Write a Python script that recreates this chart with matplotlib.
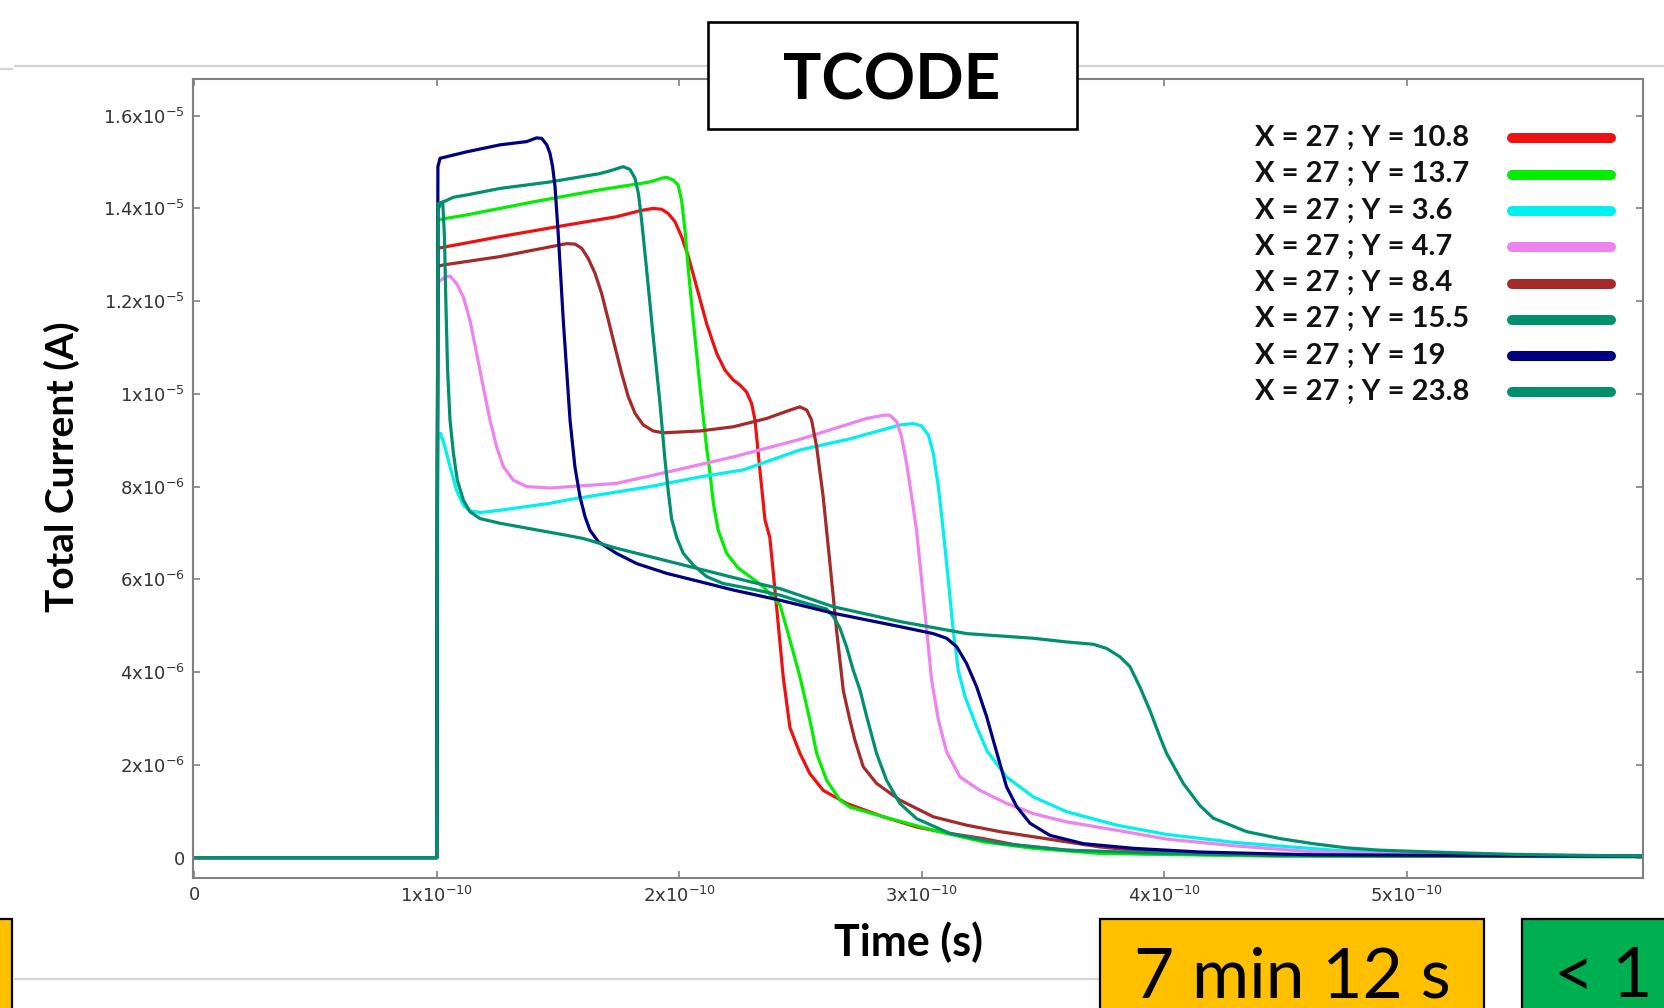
import matplotlib
matplotlib.use('Agg')
import matplotlib.pyplot as plt
from matplotlib.lines import Line2D
from matplotlib.patches import Rectangle
from matplotlib import font_manager

plt.rcParams['axes.unicode_minus'] = False

# ---------------- data (time in 1e-10 s, current in 1e-6 A) ----------------
labels = ["X = 27 ; Y = 10.8", "X = 27 ; Y = 13.7", "X = 27 ; Y = 3.6", "X = 27 ; Y = 4.7",
          "X = 27 ; Y = 8.4", "X = 27 ; Y = 15.5", "X = 27 ; Y = 19", "X = 27 ; Y = 23.8"]
colors = ["#EE1111", "#00EE00", "#00F0F0", "#EE82EE", "#A52A2A", "#00906E", "#000080", "#00906E"]

t_y108 = [0, 1.0, 1.005, 1.261, 1.536, 1.742, 1.838, 1.893, 1.928, 1.955, 1.983, 2.010, 2.038, 2.072,
          2.113, 2.155, 2.189, 2.223, 2.251, 2.278, 2.299, 2.313, 2.326, 2.340, 2.354, 2.374, 2.402,
          2.429, 2.457, 2.498, 2.539, 2.594, 2.690, 2.842, 2.979, 3.117, 3.254, 3.392, 3.598, 3.873,
          4.478, 5.2, 5.975]
i_y108 = [0, 0, 13.14, 13.39, 13.64, 13.82, 13.95, 14.0, 13.98, 13.89, 13.71, 13.39, 12.96, 12.31,
          11.52, 10.87, 10.51, 10.30, 10.19, 10.04, 9.79, 9.43, 8.72, 8.0, 7.28, 6.9, 5.4,
          3.9, 2.8, 2.25, 1.81, 1.45, 1.17, 0.88, 0.66, 0.52, 0.41, 0.27, 0.16, 0.09,
          0.04, 0.03, 0.03]

t_y137 = [0, 1.0, 1.005, 1.034, 1.124, 1.398, 1.673, 1.880, 1.928, 1.948, 1.976, 1.996, 2.010, 2.024,
          2.038, 2.058, 2.086, 2.113, 2.127, 2.141, 2.161, 2.196, 2.244, 2.292, 2.347, 2.416, 2.457,
          2.498, 2.539, 2.567, 2.608, 2.663, 2.704, 2.842, 3.048, 3.254, 3.46, 3.735, 4.478, 5.975]
i_y137 = [0, 0, 13.75, 13.78, 13.86, 14.14, 14.40, 14.57, 14.65, 14.67, 14.61, 14.50, 14.18, 13.53,
          12.67, 11.59, 10.15, 8.85, 8.3, 7.64, 7.06, 6.56, 6.24, 6.06, 5.84, 5.45, 4.69,
          3.9, 2.97, 2.25, 1.67, 1.24, 1.09, 0.88, 0.59, 0.34, 0.2, 0.09, 0.03, 0.02]

t_y36 = [0, 1.0, 1.005, 1.016, 1.034, 1.055, 1.082, 1.110, 1.137, 1.179, 1.261, 1.467, 1.536, 1.880,
         2.086, 2.264, 2.498, 2.704, 2.911, 2.966, 3.0, 3.028, 3.048, 3.069, 3.089, 3.110, 3.130,
         3.151, 3.179, 3.227, 3.27, 3.350, 3.46, 3.598, 3.804, 4.01, 4.285, 4.5, 4.75, 5.0, 5.44, 5.975]
i_y36 = [0, 0, 9.0, 9.15, 8.86, 8.43, 7.92, 7.60, 7.48, 7.44, 7.49, 7.64, 7.71, 8.0,
         8.21, 8.36, 8.79, 9.03, 9.33, 9.36, 9.31, 9.11, 8.72, 8.0, 7.06, 5.98, 4.91,
         4.04, 3.47, 2.82, 2.3, 1.74, 1.31, 0.99, 0.70, 0.50, 0.33, 0.24, 0.14, 0.09, 0.05, 0.03]

t_y47 = [0, 1.0, 1.005, 1.034, 1.055, 1.082, 1.110, 1.137, 1.165, 1.192, 1.220, 1.247, 1.275, 1.316,
         1.371, 1.467, 1.742, 1.99, 2.223, 2.498, 2.773, 2.842, 2.869, 2.897, 2.917, 2.938, 2.959,
         2.979, 3.0, 3.021, 3.041, 3.069, 3.103, 3.158, 3.240, 3.350, 3.46, 3.598, 3.804, 4.01, 4.3,
         4.6, 5.0, 5.975]
i_y47 = [0, 0, 12.4, 12.52, 12.54, 12.38, 12.09, 11.59, 10.87, 10.15, 9.43, 8.86, 8.43, 8.14,
         8.0, 7.97, 8.07, 8.36, 8.64, 9.02, 9.47, 9.54, 9.54, 9.40, 9.08, 8.50, 7.78,
         7.06, 5.98, 4.91, 3.83, 2.97, 2.28, 1.74, 1.45, 1.17, 0.95, 0.77, 0.59, 0.40, 0.25,
         0.13, 0.07, 0.03]

t_y84 = [0, 1.0, 1.005, 1.027, 1.261, 1.467, 1.536, 1.570, 1.598, 1.625, 1.653, 1.680, 1.708, 1.735,
         1.763, 1.790, 1.818, 1.852, 1.893, 1.934, 2.086, 2.223, 2.361, 2.457, 2.498, 2.526, 2.546,
         2.567, 2.594, 2.622, 2.649, 2.677, 2.704, 2.725, 2.759, 2.814, 2.910, 3.048, 3.185, 3.323,
         3.46, 3.598, 3.735, 3.873, 4.148, 4.478, 5.975]
i_y84 = [0, 0, 12.75, 12.78, 12.96, 13.17, 13.24, 13.23, 13.14, 12.92, 12.60, 12.17, 11.59, 11.02,
         10.44, 9.94, 9.58, 9.33, 9.20, 9.16, 9.2, 9.29, 9.47, 9.65, 9.72, 9.65, 9.44,
         8.86, 7.78, 6.34, 4.91, 3.6, 2.97, 2.53, 1.96, 1.6, 1.24, 0.88, 0.70, 0.56,
         0.45, 0.34, 0.23, 0.16, 0.09, 0.05, 0.02]

t_y155 = [0, 1.0, 1.005, 1.027, 1.069, 1.124, 1.261, 1.467, 1.673, 1.728, 1.769, 1.797, 1.818, 1.832,
          1.845, 1.866, 1.893, 1.921, 1.941, 1.955, 1.969, 1.990, 2.017, 2.058, 2.113, 2.182, 2.292,
          2.416, 2.5, 2.608, 2.636, 2.663, 2.69, 2.718, 2.746, 2.773, 2.814, 2.855, 2.910, 2.979,
          3.117, 3.323, 3.598, 4.01, 4.478, 5.975]
i_y155 = [0, 0, 14.0, 14.14, 14.24, 14.29, 14.43, 14.57, 14.75, 14.83, 14.90, 14.84, 14.65, 14.32,
          13.75, 12.67, 11.23, 9.79, 8.6, 7.9, 7.3, 6.9, 6.56, 6.31, 6.06, 5.91, 5.80,
          5.66, 5.52, 5.36, 5.2, 4.95, 4.55, 4.04, 3.61, 3.05, 2.25, 1.67, 1.17, 0.84,
          0.52, 0.31, 0.16, 0.09, 0.05, 0.03]

t_y19 = [0, 1.0, 1.005, 1.014, 1.124, 1.261, 1.371, 1.412, 1.433, 1.454, 1.467, 1.478, 1.488, 1.502,
         1.522, 1.55, 1.570, 1.591, 1.612, 1.632, 1.667, 1.742, 1.825, 1.948, 2.086, 2.223, 2.416,
         2.636, 2.911, 3.048, 3.103, 3.144, 3.185, 3.227, 3.268, 3.309, 3.350, 3.392, 3.447, 3.529,
         3.667, 3.873, 4.148, 4.615, 5.975]
i_y19 = [0, 0, 14.9, 15.08, 15.22, 15.37, 15.44, 15.52, 15.51, 15.37, 15.19, 14.90, 14.47, 13.39,
         11.59, 9.43, 8.43, 7.78, 7.35, 7.06, 6.81, 6.56, 6.34, 6.13, 5.95, 5.77, 5.55,
         5.27, 4.98, 4.83, 4.73, 4.55, 4.19, 3.68, 3.04, 2.28, 1.53, 1.10, 0.74, 0.48,
         0.30, 0.20, 0.12, 0.06, 0.03]

t_y238 = [0, 1.0, 1.005, 1.025, 1.032, 1.038, 1.045, 1.055, 1.069, 1.085, 1.110, 1.137, 1.179, 1.261,
          1.398, 1.536, 1.605, 1.742, 1.880, 2.017, 2.155, 2.292, 2.416, 2.636, 2.911, 3.186, 3.46,
          3.598, 3.708, 3.763, 3.818, 3.859, 3.900, 3.941, 3.983, 4.01, 4.079, 4.148, 4.203, 4.34,
          4.478, 4.615, 4.752, 4.89, 5.165, 5.44, 5.975]
i_y238 = [0, 0, 14.1, 14.14, 13.39, 11.95, 10.51, 9.43, 8.72, 8.14, 7.71, 7.46, 7.31, 7.21,
          7.08, 6.95, 6.88, 6.67, 6.49, 6.31, 6.13, 5.95, 5.80, 5.41, 5.09, 4.83, 4.73,
          4.65, 4.60, 4.51, 4.33, 4.12, 3.68, 3.18, 2.6, 2.25, 1.6, 1.12, 0.85, 0.56,
          0.41, 0.30, 0.21, 0.16, 0.11, 0.07, 0.03]

times = [t_y108, t_y137, t_y36, t_y47, t_y84, t_y155, t_y19, t_y238]
currents = [i_y108, i_y137, i_y36, i_y47, i_y84, i_y155, i_y19, i_y238]

xticks = [0, 1e-10, 2e-10, 3e-10, 4e-10, 5e-10]
xticklabels = ["0", r"1x10$^{\mathregular{-10}}$", r"2x10$^{\mathregular{-10}}$", r"3x10$^{\mathregular{-10}}$",
               r"4x10$^{\mathregular{-10}}$", r"5x10$^{\mathregular{-10}}$"]
yticks = [0, 2e-6, 4e-6, 6e-6, 8e-6, 1e-5, 1.2e-5, 1.4e-5, 1.6e-5]
yticklabels = ["0", r"2x10$^{\mathregular{-6}}$", r"4x10$^{\mathregular{-6}}$", r"6x10$^{\mathregular{-6}}$",
               r"8x10$^{\mathregular{-6}}$", r"1x10$^{\mathregular{-5}}$", r"1.2x10$^{\mathregular{-5}}$",
               r"1.4x10$^{\mathregular{-5}}$", r"1.6x10$^{\mathregular{-5}}$"]

title_text = "TCODE"
xlabel = "Time (s)"
ylabel = "Total Current (A)"
time_box_text = "7 min 12 s"
green_box_text = "< 1"

# ---------------- fonts ----------------
available = {f.name for f in font_manager.fontManager.ttflist}
bold_font = 'Lato' if 'Lato' in available else 'DejaVu Sans'
tick_font = 'DejaVu Sans'

# ---------------- figure ----------------
W, H = 1664, 1008
fig = plt.figure(figsize=(W / 100, H / 100), dpi=100)
fig.patch.set_facecolor('white')


def fx(px):
    return px / W


def fy(py):
    return 1 - py / H


ax = fig.add_axes([fx(193), fy(878), (1643 - 193) / W, (878 - 79) / H])

for t, i, c in zip(times, currents, colors):
    ax.plot([v * 1e-10 for v in t], [v * 1e-6 for v in i], color=c, lw=2.3,
            solid_joinstyle='round', solid_capstyle='round')

ax.set_xlim(-0.005e-10, 5.975e-10)
ax.set_ylim(-0.44e-6, 16.79e-6)
ax.set_xticks(xticks)
ax.set_xticklabels(xticklabels, fontsize=13, family=tick_font, color='#333333')
ax.set_yticks(yticks)
ax.set_yticklabels(yticklabels, fontsize=13, family=tick_font, color='#333333')
ax.tick_params(direction='in', length=5, width=1.2, color='#808080', top=True, right=True, pad=6)
for s in ax.spines.values():
    s.set_color('#808080')
    s.set_linewidth(1.5)

ax.set_xlabel(xlabel, fontsize=31, fontweight='bold', family=bold_font, va='center', ha='center')
ax.xaxis.set_label_coords((908 - 193) / 1450, (878 - 942) / 799)
ax.set_ylabel(ylabel, fontsize=28, fontweight='bold', family=bold_font, va='center', ha='center')
ax.yaxis.set_label_coords((62 - 193) / 1450, (878 - 467) / 799)

# legend (text left-aligned, swatches right-aligned)
for k, (lab, c) in enumerate(zip(labels, colors)):
    yc = 138.3 + 36.3 * k
    fig.text(fx(1255), fy(yc + 7.5), lab, fontsize=21, fontweight='bold', family=bold_font,
             ha='left', va='baseline', color='#111111')
    fig.add_artist(Line2D([fx(1512), fx(1611)], [fy(yc), fy(yc)], transform=fig.transFigure,
                          color=c, lw=7.2, solid_capstyle='round'))

# decorative separators
fig.add_artist(Line2D([fx(15), fx(1664)], [fy(66), fy(66)], transform=fig.transFigure,
                      color='#d4d4d4', lw=1.6))
fig.add_artist(Line2D([fx(0), fx(12)], [fy(69), fy(69)], transform=fig.transFigure,
                      color='#d4d4d4', lw=1.6))
fig.add_artist(Line2D([fx(15), fx(1100)], [fy(979), fy(979)], transform=fig.transFigure,
                      color='#d4d4d4', lw=1.6))

# title box
fig.add_artist(Rectangle((fx(708), fy(129)), (1077 - 708) / W, (129 - 22) / H, transform=fig.transFigure,
                         facecolor='white', edgecolor='black', lw=1.9, zorder=5))
fig.text(fx(892), fy(100), title_text, fontsize=46, fontweight='bold', family=bold_font,
         ha='center', va='baseline', zorder=6)

# bottom boxes
fig.add_artist(Rectangle((fx(1100), fy(1020)), (1484 - 1100) / W, (1020 - 919) / H, transform=fig.transFigure,
                         facecolor='#FFC000', edgecolor='black', lw=1.6, zorder=5))
fig.add_artist(Rectangle((fx(1522), fy(1020)), (1700 - 1522) / W, (1020 - 919) / H, transform=fig.transFigure,
                         facecolor='#00B050', edgecolor='black', lw=1.6, zorder=5))
fig.add_artist(Rectangle((fx(-20), fy(1020)), (12 + 20) / W, (1020 - 919) / H, transform=fig.transFigure,
                         facecolor='#FFC000', edgecolor='black', lw=1.6, zorder=5))
fig.text(fx(1292), fy(997), time_box_text, fontsize=50, family=bold_font,
         ha='center', va='baseline', zorder=6)
fig.text(fx(1554), fy(997), green_box_text, fontsize=50, family=bold_font,
         ha='left', va='baseline', zorder=6)

fig.savefig('out.png', dpi=100, facecolor='white')
